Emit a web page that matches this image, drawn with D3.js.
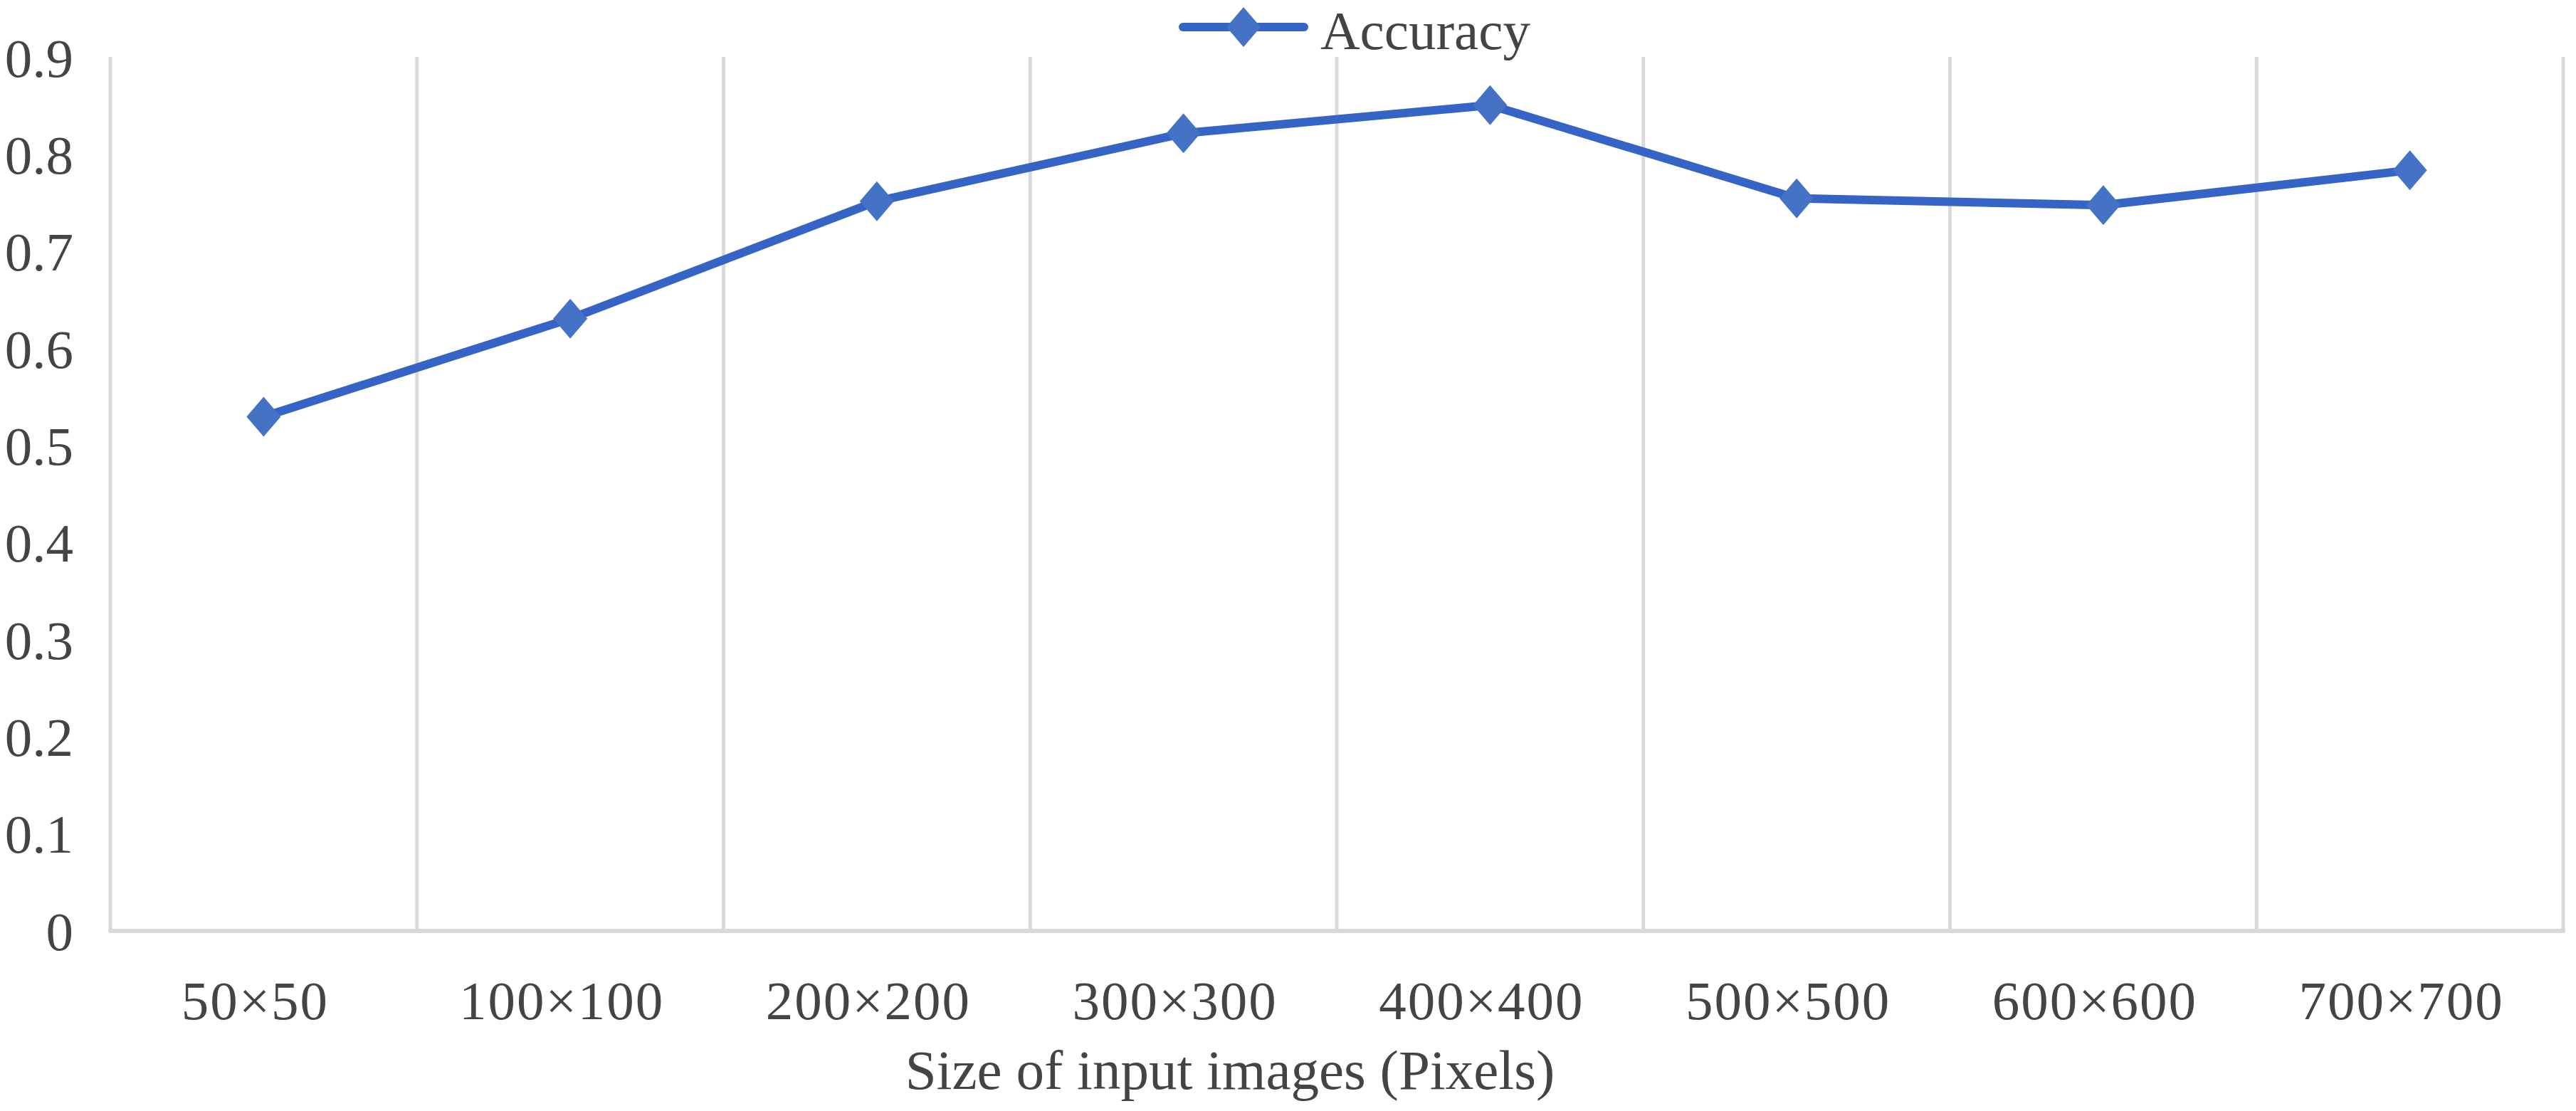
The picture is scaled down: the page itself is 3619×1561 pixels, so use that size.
<!DOCTYPE html>
<html>
<head>
<meta charset="utf-8">
<script src="https://cdn.jsdelivr.net/npm/d3@7"></script>
<style>
  body { margin: 0; background: #fff; }
  text { font-family: "Liberation Serif", "Times New Roman", serif; fill: #444; }
</style>
</head>
<body>
<script>
// values
var categories = ["50×50", "100×100", "200×200", "300×300", "400×400", "500×500", "600×600", "700×700"];
var accuracy = [0.53, 0.631, 0.752, 0.822, 0.851, 0.755, 0.748, 0.784];
var yTicks = [0, 0.1, 0.2, 0.3, 0.4, 0.5, 0.6, 0.7, 0.8, 0.9];
var seriesName = "Accuracy";
var xTitle = "Size of input images (Pixels)";

var W = 3619, H = 1561;
var LEFT = 155, RIGHT = 3601, TOP = 81, BOTTOM = 1308;
var LINE_COL = "#3563c6", MARK_COL = "#4472c4", GRID_COL = "#d9d9d9";

var svg = d3.select("body").append("svg")
    .attr("width", W)
    .attr("height", H);

var x = d3.scaleBand().domain(categories).range([LEFT, RIGHT]).padding(0);
var y = d3.scaleLinear().domain([0, 0.9]).range([BOTTOM, TOP]);

// vertical separators between categories
var seps = categories.map(function (c) { return x(c); }).concat([x.range()[1]]);
svg.append("g").selectAll("line").data(seps).enter().append("line")
    .attr("x1", function (d) { return d; })
    .attr("x2", function (d) { return d; })
    .attr("y1", y(0.9) - 1)
    .attr("y2", y(0))
    .attr("stroke", GRID_COL)
    .attr("stroke-width", 5);

// bottom axis line
svg.append("line")
    .attr("x1", LEFT).attr("x2", RIGHT)
    .attr("y1", y(0)).attr("y2", y(0))
    .attr("stroke", GRID_COL)
    .attr("stroke-width", 6)
    .attr("stroke-linecap", "round");

// y labels
var yAxis = svg.append("g")
    .attr("transform", "translate(" + (LEFT - 52) + ",0)")
    .call(d3.axisLeft(y).tickValues(yTicks).tickSize(0).tickPadding(0)
        .tickFormat(function (d) { return d === 0 ? "0" : d3.format(".1f")(d); }));
yAxis.select(".domain").remove();
yAxis.selectAll("text")
    .attr("font-size", 77)
    .attr("font-family", null)
    .attr("dy", "0.34em");

// x labels
var xAxis = svg.append("g")
    .attr("transform", "translate(0," + y(0) + ")")
    .call(d3.axisBottom(x).tickSize(0).tickPadding(0));
xAxis.select(".domain").remove();
xAxis.selectAll("text")
    .attr("font-size", 77)
    .attr("font-family", null)
    .attr("letter-spacing", 2)
    .attr("dy", null)
    .attr("y", 124)
    .attr("dx", -12);

// axis title
svg.append("text")
    .attr("x", 1728)
    .attr("y", 1530)
    .attr("text-anchor", "middle")
    .attr("font-size", 79)
    .text(xTitle);

// series line
var line = d3.line()
    .x(function (d, i) { return x(categories[i]) + x.bandwidth() / 2; })
    .y(function (d) { return y(d); });

svg.append("path")
    .datum(accuracy)
    .attr("d", line)
    .attr("fill", "none")
    .attr("stroke", LINE_COL)
    .attr("stroke-width", 12)
    .attr("stroke-linejoin", "round");

function diamond(cx, cy) {
    var hw = 24, hh = 28;
    var p = d3.path();
    p.moveTo(cx, cy - hh);
    p.lineTo(cx + hw, cy);
    p.lineTo(cx, cy + hh);
    p.lineTo(cx - hw, cy);
    p.closePath();
    return p.toString();
}

svg.append("g").selectAll("path").data(accuracy).enter().append("path")
    .attr("d", function (d, i) { return diamond(x(categories[i]) + x.bandwidth() / 2, y(d)); })
    .attr("fill", MARK_COL);

// legend
var lg = svg.append("g");
lg.append("line")
    .attr("x1", 1662).attr("x2", 1832)
    .attr("y1", 38).attr("y2", 38)
    .attr("stroke", LINE_COL)
    .attr("stroke-width", 12)
    .attr("stroke-linecap", "round");
lg.append("path")
    .attr("d", diamond(1747, 38))
    .attr("fill", MARK_COL);
lg.append("text")
    .attr("x", 1855)
    .attr("y", 69)
    .attr("font-size", 77)
    .text(seriesName);
</script>
</body>
</html>
